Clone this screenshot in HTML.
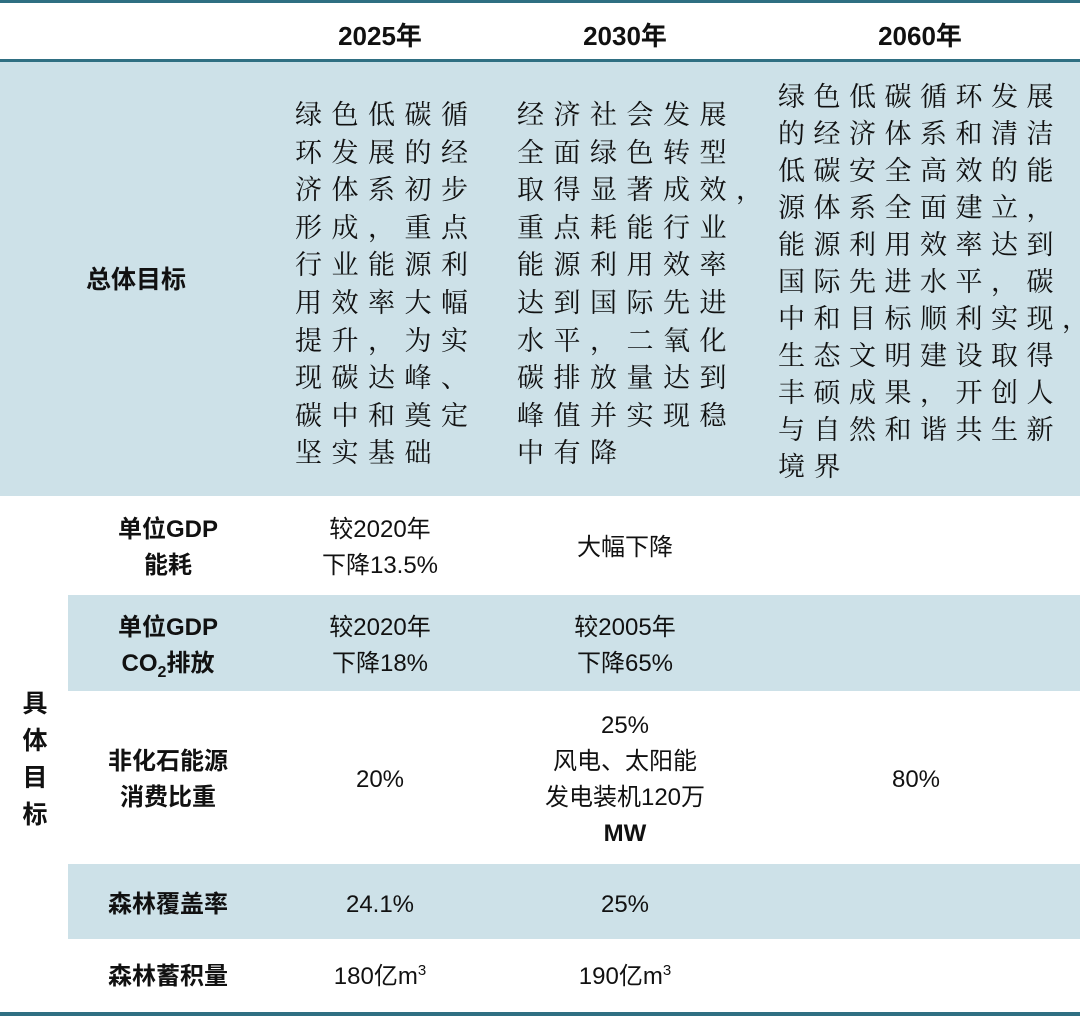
<!DOCTYPE html>
<html><head><meta charset="utf-8"><style>
body{margin:0;width:1080px;height:1017px;background:#fff;position:relative;overflow:hidden;font-family:"Liberation Sans","Noto Sans CJK SC",sans-serif;color:#111}
.a{position:absolute}
.bg{position:absolute;background:#cde1e8}
.ln{position:absolute;left:0;width:1080px;background:#2f6f82}
.h{font-weight:bold;font-size:26px;transform:translateX(-50%);white-space:nowrap;top:16px}
.p{font-family:"Noto Serif CJK SC","Liberation Serif",serif;font-size:27px;white-space:nowrap}
.c{text-align:center;transform:translate(-50%,-50%);font-size:24px;line-height:36px;white-space:nowrap}
.b{font-weight:bold}
</style></head><body>
<div class="ln" style="top:0;height:3px"></div>
<div class="ln" style="top:59px;height:3px"></div>
<div class="bg" style="left:0;top:62px;width:1080px;height:434px"></div>
<div class="bg" style="left:68px;top:595px;width:1012px;height:96px"></div>
<div class="bg" style="left:68px;top:864px;width:1012px;height:75px"></div>
<div class="ln" style="top:1012px;height:4px"></div>

<div class="a h" style="left:380px">2025年</div>
<div class="a h" style="left:625px">2030年</div>
<div class="a h" style="left:920px">2060年</div>

<div class="a c b" style="left:136px;top:280px;font-size:25px">总体目标</div>

<div class="a p" style="left:295px;top:94px;line-height:37.6px;letter-spacing:9.5px">绿色低碳循<br>环发展的经<br>济体系初步<br>形成，重点<br>行业能源利<br>用效率大幅<br>提升，为实<br>现碳达峰、<br>碳中和奠定<br>坚实基础</div>
<div class="a p" style="left:517px;top:94px;line-height:37.6px;letter-spacing:9.5px">经济社会发展<br>全面绿色转型<br>取得显著成效，<br>重点耗能行业<br>能源利用效率<br>达到国际先进<br>水平，二氧化<br>碳排放量达到<br>峰值并实现稳<br>中有降</div>
<div class="a p" style="left:778px;top:76px;line-height:37px;letter-spacing:8.5px">绿色低碳循环发展<br>的经济体系和清洁<br>低碳安全高效的能<br>源体系全面建立，<br>能源利用效率达到<br>国际先进水平，碳<br>中和目标顺利实现，<br>生态文明建设取得<br>丰硕成果，开创人<br>与自然和谐共生新<br>境界</div>

<div class="a c b" style="left:35px;top:760px;line-height:37px;font-size:25px">具<br>体<br>目<br>标</div>

<div class="a c b" style="left:168px;top:548px">单位GDP<br>能耗</div>
<div class="a c" style="left:380px;top:548px">较2020年<br>下降13.5%</div>
<div class="a c" style="left:625px;top:548px">大幅下降</div>

<div class="a c b" style="left:168px;top:646px">单位GDP<br>CO<sub style="font-size:16px;line-height:0">2</sub>排放</div>
<div class="a c" style="left:380px;top:646px">较2020年<br>下降18%</div>
<div class="a c" style="left:625px;top:646px">较2005年<br>下降65%</div>

<div class="a c b" style="left:168px;top:780px">非化石能源<br>消费比重</div>
<div class="a c" style="left:380px;top:780px">20%</div>
<div class="a c" style="left:625px;top:780px">25%<br>风电、太阳能<br>发电装机120万<br><b>MW</b></div>
<div class="a c" style="left:916px;top:780px">80%</div>

<div class="a c b" style="left:168px;top:905px">森林覆盖率</div>
<div class="a c" style="left:380px;top:905px">24.1%</div>
<div class="a c" style="left:625px;top:905px">25%</div>

<div class="a c b" style="left:168px;top:977px">森林蓄积量</div>
<div class="a c" style="left:380px;top:977px">180亿m<sup style="font-size:15px;line-height:0">3</sup></div>
<div class="a c" style="left:625px;top:977px">190亿m<sup style="font-size:15px;line-height:0">3</sup></div>
</body></html>
